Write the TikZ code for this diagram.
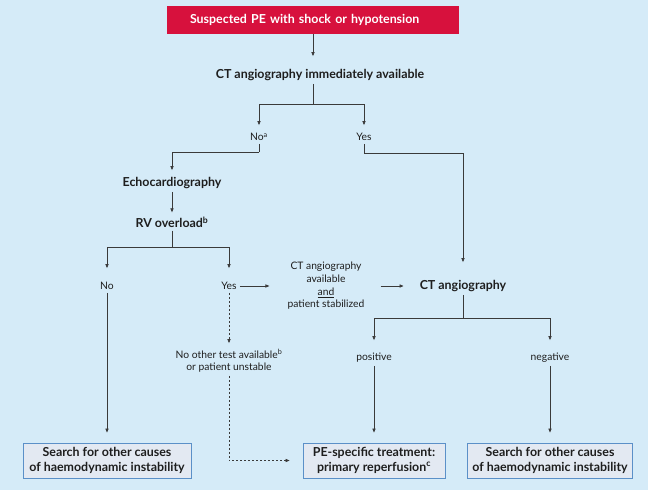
\documentclass[tikz,border=0pt]{standalone}
\usepackage{fontspec}
\setmainfont{Lato}
\usetikzlibrary{arrows.meta}
\definecolor{bgblue}{HTML}{D5EBF8}
\definecolor{pered}{HTML}{D7113D}
\definecolor{boxfill}{HTML}{E3E9F2}
\definecolor{boxline}{HTML}{5B90C8}
\definecolor{lnc}{HTML}{3A3A3A}
\definecolor{txt}{HTML}{1E1E1E}

\begin{document}
\begin{tikzpicture}[x=1pt,y=-1pt,
    every node/.style={font=\fontsize{10.3}{12.7}\selectfont, text=txt, inner sep=3pt},
    bold/.style={font=\fontsize{12.4}{14.2}\selectfont\bfseries},
    ln/.style={draw=lnc, line width=0.7pt},
    arr/.style={ln, -{Triangle[length=4pt,width=3.2pt]}, shorten >=3pt},
    redbox/.style={bold, fill=pered, text=white, text width=246pt, inner xsep=23pt,
      align=left, minimum height=28pt},
    outbox/.style={bold, draw=boxline, fill=boxfill, line width=0.8pt,
      minimum height=35pt, align=center}]

  \fill[bgblue] (0,0) rectangle (648,490);
  \useasboundingbox (0,0) rectangle (648,490);

  % nodes
  \node[redbox] (start) at (313,20) {Suspected PE with shock or hypotension};
  \node[bold] (ctnow) at (320,75) {CT angiography immediately available};
  \node (noa) at (259,137) {No\textsuperscript{a}};
  \node (yesa) at (364,137) {Yes};
  \node[bold] (echo) at (172,183) {Echocardiography};
  \node[bold] (rv) at (172,222) {RV overload\textsuperscript{b}};
  \node (nob) at (107,286) {No};
  \node (yesb) at (229,286) {Yes};
  \node[align=center] (stab) at (326,286)
    {CT angiography\\available\\\underline{and}\\patient stabilized};
  \node[bold] (ct) at (463,286) {CT angiography};
  \node[align=center] (other) at (229,361) {No other test available\textsuperscript{b}\\or patient unstable};
  \node (pos) at (374,358) {positive};
  \node (neg) at (550,358) {negative};
  \node[outbox, minimum width=168pt] (searchl) at (107,460.5) {Search for other causes\\of haemodynamic instability};
  \node[outbox, minimum width=142pt] (treat) at (374,460.5) {PE-specific treatment:\\primary reperfusion\textsuperscript{c}};
  \node[outbox, minimum width=165pt] (searchr) at (550,460.5) {Search for other causes\\of haemodynamic instability};

  % connectors
  \draw[arr, shorten >=10pt] (start) -- (start |- ctnow.north);
  \draw[ln] (start |- ctnow.south) -- ++(0,20) coordinate (s1);
  \draw[arr, shorten >=5pt] (s1) -| (noa);
  \draw[arr, shorten >=5pt] (s1) -| (yesa);
  \draw[ln] (noa.south) -- ++(0,8) coordinate (s2);
  \draw[arr, shorten >=4pt] (s2) -| (echo);
  \draw[arr, shorten >=1pt] (echo) -- (rv);
  \draw[ln] (rv.south) -- ++(0,17) coordinate (s3);
  \draw[arr, shorten >=11pt] (s3) -| (nob);
  \draw[arr, shorten >=11pt] (s3) -| (yesb);
  \draw[arr, shorten >=15pt] (yesb) -- (stab);
  \draw[arr, shorten <=13pt, shorten >=13pt] (stab) -- (ct);
  \draw[ln] (yesa.south) -- ++(0,9) coordinate (s4);
  \draw[arr, shorten >=15pt] (s4) -| (ct);
  \draw[ln] (ct.south) -- ++(0,23) coordinate (s5);
  \draw[arr, shorten >=10pt] (s5) -| (pos);
  \draw[arr, shorten >=10pt] (s5) -| (neg);
  \draw[arr, shorten >=10pt] (nob) -- (searchl);
  \draw[arr, shorten >=10pt] (pos) -- (treat);
  \draw[arr, shorten >=10pt] (neg) -- (searchr);
  \draw[arr, dash pattern=on 2pt off 2pt] (yesb) -- (other);
  \draw[arr, dash pattern=on 2pt off 2pt, shorten >=13pt] (other.south) |- (treat);

\end{tikzpicture}
\end{document}
